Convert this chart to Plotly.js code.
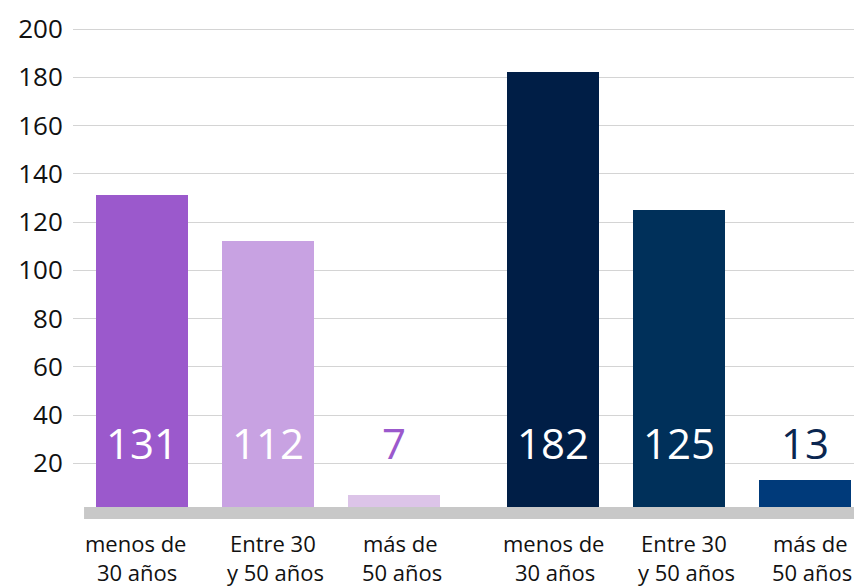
<!DOCTYPE html>
<html><head><meta charset="utf-8">
<script src="https://cdn.plot.ly/plotly-3.0.1.min.js"></script>
<style>html,body{margin:0;padding:0;background:#fff}#chart{width:854px;height:586px}</style>
</head><body><div id="chart"></div>
<script>
// Data
const categories = ["menos de<br>30 años", "Entre 30<br>y 50 años", "más de<br>50 años",
                    "menos de<br>30 años", "Entre 30<br>y 50 años", "más de<br>50 años"];
const groupIndex = [0, 0, 0, 1, 1, 1];
const values = [131, 112, 7, 182, 125, 13];
const yTicks = [20, 40, 60, 80, 100, 120, 140, 160, 180, 200];

// Styles
const barColors = ["#9b59cc", "#c8a2e2", "#dcc4e8", "#001e46", "#00305a", "#003a7a"];
const labelColors = ["#ffffff", "#ffffff", "#9b59cc", "#ffffff", "#ffffff", "#0a2650"];
const labelShift = [[-7, -5], [5, 7], [6, 8], [0, 2], [5, 7], [5, 7]];
const groupGap = 0.262;
const FONT = "Open Sans, Noto Sans, sans-serif";

const xs = values.map((v, i) => i + groupIndex[i] * groupGap);

const trace = {
  type: "bar", x: xs, y: values, width: 0.73,
  marker: {color: barColors, line: {width: 0}},
  hoverinfo: "none"
};

const annotations = [];
xs.forEach((x, i) => {
  annotations.push({x: x, y: 28.6, xref: "x", yref: "y", text: String(values[i]),
    showarrow: false, yanchor: "middle", xanchor: "center",
    font: {family: FONT, size: 42, color: labelColors[i]}});
  const lines = categories[i].split("<br>");
  lines.forEach((ln, k) => {
    annotations.push({x: x, y: 0, xref: "x", yref: "paper", text: ln, showarrow: false,
      yanchor: "middle", xanchor: "center", yshift: -24 - 29 * k, xshift: labelShift[i][k],
      font: {family: FONT, size: 22, color: "#111"}});
  });
});

const layout = {
  width: 854, height: 586,
  margin: {l: 73, r: 0, t: 20, b: 67},
  paper_bgcolor: "#fff", plot_bgcolor: "#fff",
  showlegend: false,
  xaxis: {range: [-0.5476, 5.6508], showgrid: false, zeroline: false, showticklabels: false, ticks: "", fixedrange: true},
  yaxis: {range: [-3.07, 203.73], tickvals: yTicks, ticktext: yTicks.map(String),
    showgrid: true, gridcolor: "#d4d4d4", gridwidth: 1, zeroline: false,
    ticks: "outside", ticklen: 4, tickcolor: "rgba(0,0,0,0)",
    tickfont: {family: FONT, size: 26, color: "#111"}},
  shapes: [{type: "rect", layer: "above", xref: "x", yref: "y",
    x0: -0.46, x1: 5.6508, y0: -3.07, y1: 1.9, fillcolor: "#c8c8c8", line: {width: 0}}],
  annotations: annotations,
  bargap: 0
};

Plotly.newPlot("chart", [trace], layout, {displayModeBar: false, staticPlot: true});
</script>
</body></html>
